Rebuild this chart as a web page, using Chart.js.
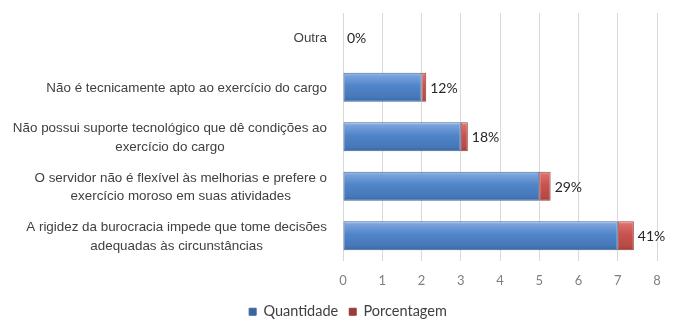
<!DOCTYPE html>
<html><head><meta charset="utf-8">
<script src="https://cdn.jsdelivr.net/npm/chart.js@4/dist/chart.umd.min.js"></script>
<style>html,body{margin:0;padding:0;background:#fff;overflow:hidden;}</style>
</head><body>
<canvas id="c" width="696" height="329"></canvas>
<script>
// ---- data ----
const categories = [
  ["Outra"],
  ["Não é tecnicamente apto ao exercício do cargo"],
  ["Não possui suporte tecnológico que dê condições ao", "exercício do cargo"],
  ["O servidor não é flexível às melhorias e prefere o", "exercício moroso em suas atividades"],
  ["A rigidez da burocracia impede que tome decisões", "adequadas às circunstâncias"]
];
const quantidade = [0, 2, 3, 5, 7];
const porcentagem = [0, 0.12, 0.18, 0.29, 0.41];
const pctLabels = ["0%", "12%", "18%", "29%", "41%"];
const xMin = 0, xMax = 8, xStep = 1;
const seriesNames = ["Quantidade", "Porcentagem"];

const BAR_PCT = 0.59;
function barGradient(context, stops, fallback) {
  const chart = context.chart;
  const ys = chart.scales && chart.scales.y;
  if (!ys || !chart.chartArea || ys.height <= 0) return fallback;
  const yc = ys.getPixelForValue(context.dataIndex);
  const h = ys.height / categories.length * BAR_PCT / 2;
  const g = chart.ctx.createLinearGradient(0, yc - h, 0, yc + h);
  stops.forEach(s => g.addColorStop(s[0], s[1]));
  return g;
}
const blueStops = [[0, "#b3cdef"], [0.1, "#7aa3dc"], [0.45, "#5085c9"], [0.85, "#4677b8"], [1, "#3a669f"]];
const redStops = [[0, "#eeaaa8"], [0.1, "#da6f6b"], [0.45, "#c9524e"], [0.85, "#b84a47"], [1, "#9c3b38"]];

const yLabelsPlugin = {
  id: "yLabels",
  afterDraw(chart) {
    const ctx = chart.ctx, ys = chart.scales.y;
    ctx.save();
    ctx.font = "13.4px 'Liberation Sans', Arial, sans-serif";
    ctx.fillStyle = "#404040";
    ctx.textBaseline = "middle";
    const right = 327, lh = 18.5;
    categories.forEach((lines, i) => {
      const yc = ys.getPixelForValue(i);
      const widths = lines.map(l => ctx.measureText(l).width);
      const maxW = Math.max(...widths);
      const cx = right - maxW / 2;
      ctx.textAlign = "center";
      lines.forEach((l, k) => {
        const y = yc - (lines.length - 1) * lh / 2 + k * lh + 1;
        ctx.fillText(l, cx, y);
      });
    });
    ctx.restore();
  }
};

const dataLabelsPlugin = {
  id: "pctLabels",
  afterDatasetsDraw(chart) {
    const ctx = chart.ctx;
    const meta = chart.getDatasetMeta(1);
    ctx.save();
    ctx.font = "14px Lato, 'Open Sans', sans-serif";
    ctx.fillStyle = "#262626";
    ctx.textAlign = "left";
    ctx.textBaseline = "middle";
    meta.data.forEach((el, i) => {
      ctx.fillText(pctLabels[i], el.x + 4, el.y + 1);
    });
    ctx.restore();
  }
};

new Chart(document.getElementById("c"), {
  type: "bar",
  data: {
    labels: categories,
    datasets: [
      {
        label: seriesNames[0],
        data: quantidade,
        backgroundColor: c => barGradient(c, blueStops, "#4f81bd"),
        borderColor: "#3c679e",
        borderWidth: 1,
        borderSkipped: false,
        barPercentage: BAR_PCT,
        categoryPercentage: 1
      },
      {
        label: seriesNames[1],
        data: porcentagem,
        backgroundColor: c => barGradient(c, redStops, "#c0504d"),
        borderColor: "#9a3d3a",
        borderWidth: 1,
        borderSkipped: false,
        barPercentage: BAR_PCT,
        categoryPercentage: 1
      }
    ]
  },
  options: {
    indexAxis: "y",
    responsive: false,
    animation: false,
    devicePixelRatio: 1,
    layout: { padding: { top: 13, right: 39, left: 39, bottom: 0 } },
    scales: {
      x: {
        stacked: true,
        min: xMin, max: xMax,
        ticks: {
          stepSize: xStep,
          padding: 13,
          color: "#7f7f7f",
          font: { family: "Lato, 'Open Sans', sans-serif", size: 13 }
        },
        grid: { color: "#d9d9d9", drawTicks: false },
        border: { display: false },
        afterFit(scale) { scale.height = 33; }
      },
      y: {
        stacked: true,
        ticks: { display: false },
        grid: { display: false },
        border: { display: false },
        afterFit(scale) { scale.width = 304; }
      }
    },
    plugins: {
      legend: {
        position: "bottom",
        labels: {
          boxWidth: 7,
          boxHeight: 7,
          padding: 11,
          color: "#404040",
          font: { family: "Lato, 'Open Sans', sans-serif", size: 14.5 }
        }
      },
      tooltip: { enabled: false }
    }
  },
  plugins: [yLabelsPlugin, dataLabelsPlugin]
});
</script>
</body></html>
